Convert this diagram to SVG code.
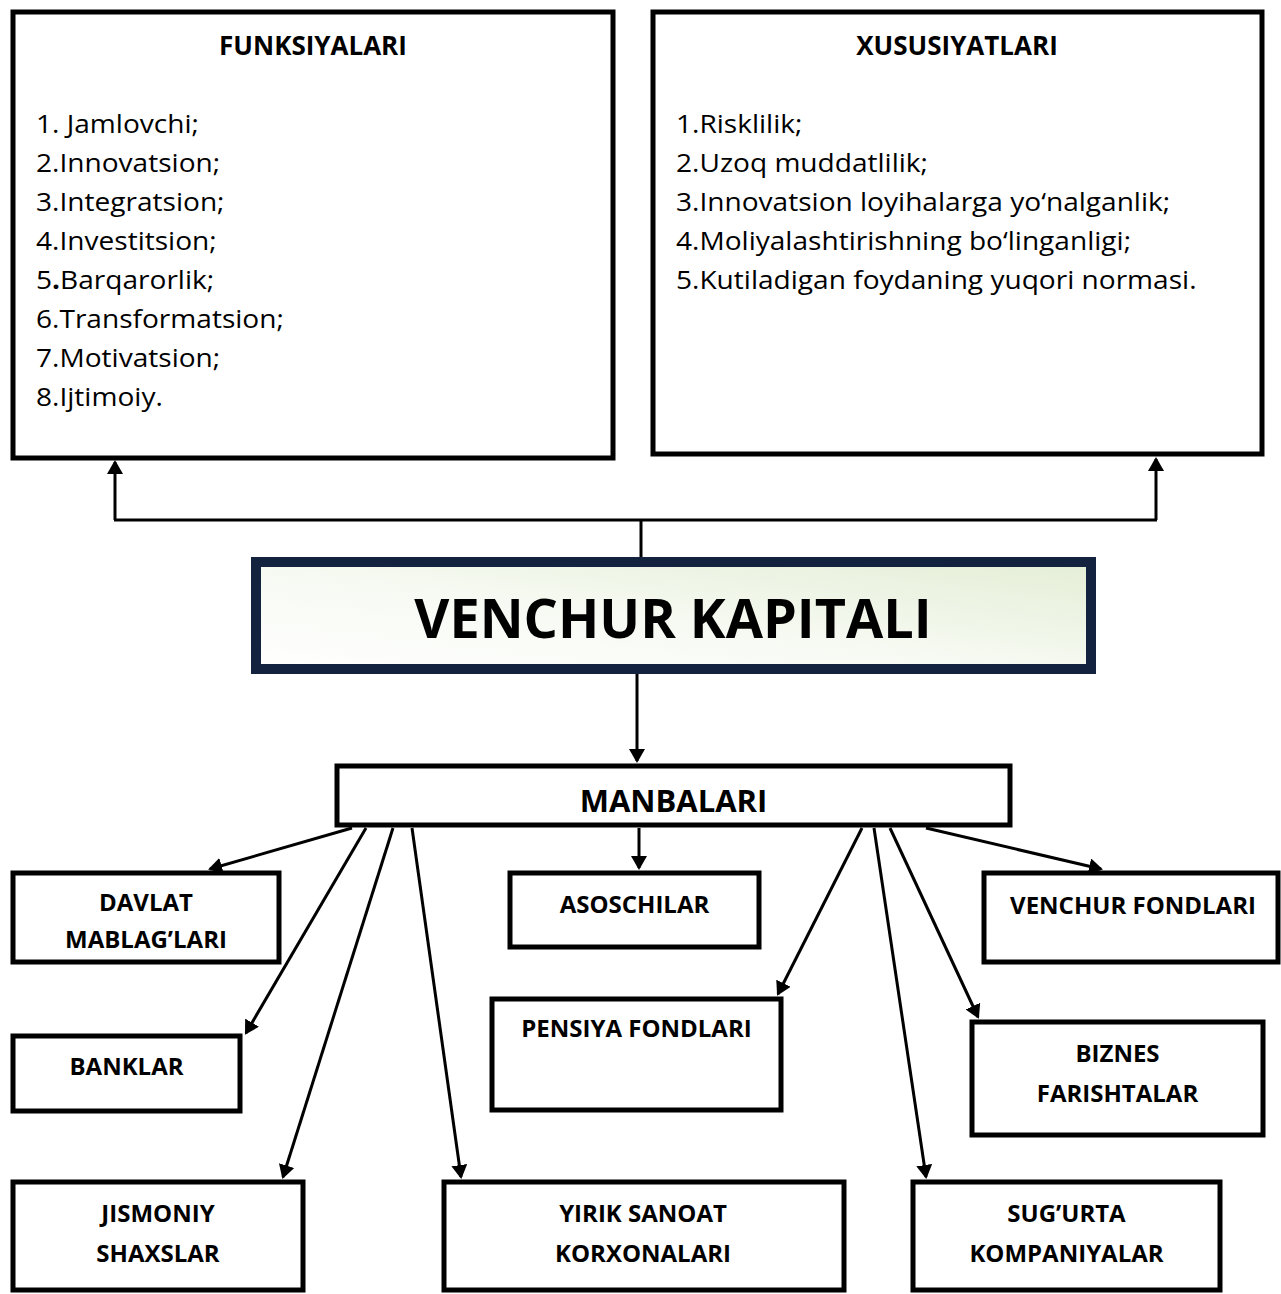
<svg xmlns="http://www.w3.org/2000/svg" width="1281" height="1294" viewBox="0 0 1281 1294">
<defs>
<style>
.box{fill:#fff;stroke:#000;stroke-width:5}
.t{font-family:"Open Sans","Liberation Sans",sans-serif;fill:#000}
.lbl{font-size:24px;font-weight:700;text-anchor:middle}
.ttl{font-size:26px;font-weight:700;text-anchor:middle}
.item{font-size:26px;font-weight:400}
.conn{stroke:#000;stroke-width:3;fill:none}
</style>
<linearGradient id="vg" x1="0" y1="1" x2="1" y2="0">
<stop offset="0" stop-color="#ffffff"/>
<stop offset="0.45" stop-color="#f7faf3"/>
<stop offset="1" stop-color="#e4eed6"/>
</linearGradient>
<marker id="ah" viewBox="0 0 14 16" refX="12" refY="8" markerWidth="14" markerHeight="16" markerUnits="userSpaceOnUse" orient="auto">
<path d="M0,0 L14,8 L0,16 z" fill="#000"/>
</marker>
</defs>
<rect width="1281" height="1294" fill="#fff"/>

<g id="connectors">
<line class="conn" x1="641" y1="557" x2="641" y2="520"/>
<line class="conn" x1="114" y1="520" x2="1157" y2="520"/>
<line class="conn" x1="115" y1="520" x2="115" y2="462" marker-end="url(#ah)"/>
<line class="conn" x1="1156" y1="520" x2="1156" y2="459" marker-end="url(#ah)"/>
<line class="conn" x1="637" y1="674" x2="637" y2="761" marker-end="url(#ah)"/>
<line class="conn" x1="352" y1="828" x2="210" y2="869" marker-end="url(#ah)"/>
<line class="conn" x1="366" y1="828" x2="246" y2="1033" marker-end="url(#ah)"/>
<line class="conn" x1="393" y1="828" x2="283" y2="1177" marker-end="url(#ah)"/>
<line class="conn" x1="412" y1="828" x2="461" y2="1177" marker-end="url(#ah)"/>
<line class="conn" x1="639" y1="828" x2="639" y2="868" marker-end="url(#ah)"/>
<line class="conn" x1="862" y1="828" x2="778" y2="994" marker-end="url(#ah)"/>
<line class="conn" x1="874" y1="828" x2="926" y2="1177" marker-end="url(#ah)"/>
<line class="conn" x1="890" y1="828" x2="978" y2="1017" marker-end="url(#ah)"/>
<line class="conn" x1="926" y1="828" x2="1101" y2="869" marker-end="url(#ah)"/>
</g>

<g id="funksiyalari">
<rect class="box" x="13" y="12" width="600" height="446"/>
<text class="t ttl" x="313" y="55">FUNKSIYALARI</text>
<g transform="translate(36 0) scale(1.08 1)">
<text class="t item" x="0" y="133">1. Jamlovchi;</text>
<text class="t item" x="0" y="172">2.Innovatsion;</text>
<text class="t item" x="0" y="211">3.Integratsion;</text>
<text class="t item" x="0" y="250">4.Investitsion;</text>
<text class="t item" x="0" y="289">5<tspan font-weight="700">.</tspan>Barqarorlik;</text>
<text class="t item" x="0" y="328.5">6.Transformatsion;</text>
<text class="t item" x="0" y="367.5">7.Motivatsion;</text>
<text class="t item" x="0" y="406.5">8.Ijtimoiy.</text>
</g>
</g>

<g id="xususiyatlari">
<rect class="box" x="653" y="12" width="609" height="442"/>
<text class="t ttl" x="957" y="55">XUSUSIYATLARI</text>
<g transform="translate(676 0) scale(1.08 1)">
<text class="t item" x="0" y="133">1.Risklilik;</text>
<text class="t item" x="0" y="172">2.Uzoq muddatlilik;</text>
<text class="t item" x="0" y="211">3.Innovatsion loyihalarga yo‘nalganlik;</text>
<text class="t item" x="0" y="250">4.Moliyalashtirishning bo‘linganligi;</text>
<text class="t item" x="0" y="289">5.Kutiladigan foydaning yuqori normasi.</text>
</g>
</g>

<g id="venchur-kapitali">
<rect x="256" y="562" width="835" height="107" fill="url(#vg)" stroke="#13233f" stroke-width="10"/>
<text class="t" x="673" y="638" font-size="54" font-weight="700" text-anchor="middle">VENCHUR KAPITALI</text>
</g>

<g id="manbalari">
<rect class="box" x="337" y="766" width="673" height="59"/>
<text class="t" x="673.5" y="812" font-size="31" font-weight="700" text-anchor="middle">MANBALARI</text>
</g>

<g id="davlat">
<rect class="box" x="13" y="873" width="266" height="89"/>
<text class="t lbl" x="146" y="911">DAVLAT</text>
<text class="t lbl" x="146" y="948">MABLAG’LARI</text>
</g>

<g id="asoschilar">
<rect class="box" x="510" y="873" width="249" height="74"/>
<text class="t lbl" x="634.5" y="913">ASOSCHILAR</text>
</g>

<g id="venchur-fondlari">
<rect class="box" x="984" y="873" width="294" height="89"/>
<text class="t lbl" x="1133" y="914">VENCHUR FONDLARI</text>
</g>

<g id="banklar">
<rect class="box" x="13" y="1036" width="227" height="75"/>
<text class="t lbl" x="126.5" y="1075">BANKLAR</text>
</g>

<g id="pensiya">
<rect class="box" x="492" y="999" width="289" height="111"/>
<text class="t lbl" x="636.5" y="1037">PENSIYA FONDLARI</text>
</g>

<g id="biznes">
<rect class="box" x="972" y="1022" width="291" height="113"/>
<text class="t lbl" x="1117.5" y="1062">BIZNES</text>
<text class="t lbl" x="1117.5" y="1102">FARISHTALAR</text>
</g>

<g id="jismoniy">
<rect class="box" x="13" y="1182" width="290" height="108"/>
<text class="t lbl" x="158" y="1222">JISMONIY</text>
<text class="t lbl" x="158" y="1262">SHAXSLAR</text>
</g>

<g id="yirik">
<rect class="box" x="444" y="1182" width="400" height="108"/>
<text class="t lbl" x="643" y="1222">YIRIK SANOAT</text>
<text class="t lbl" x="643" y="1262">KORXONALARI</text>
</g>

<g id="sugurta">
<rect class="box" x="913" y="1182" width="307" height="108"/>
<text class="t lbl" x="1066.5" y="1222">SUG’URTA</text>
<text class="t lbl" x="1066.5" y="1262">KOMPANIYALAR</text>
</g>
</svg>
